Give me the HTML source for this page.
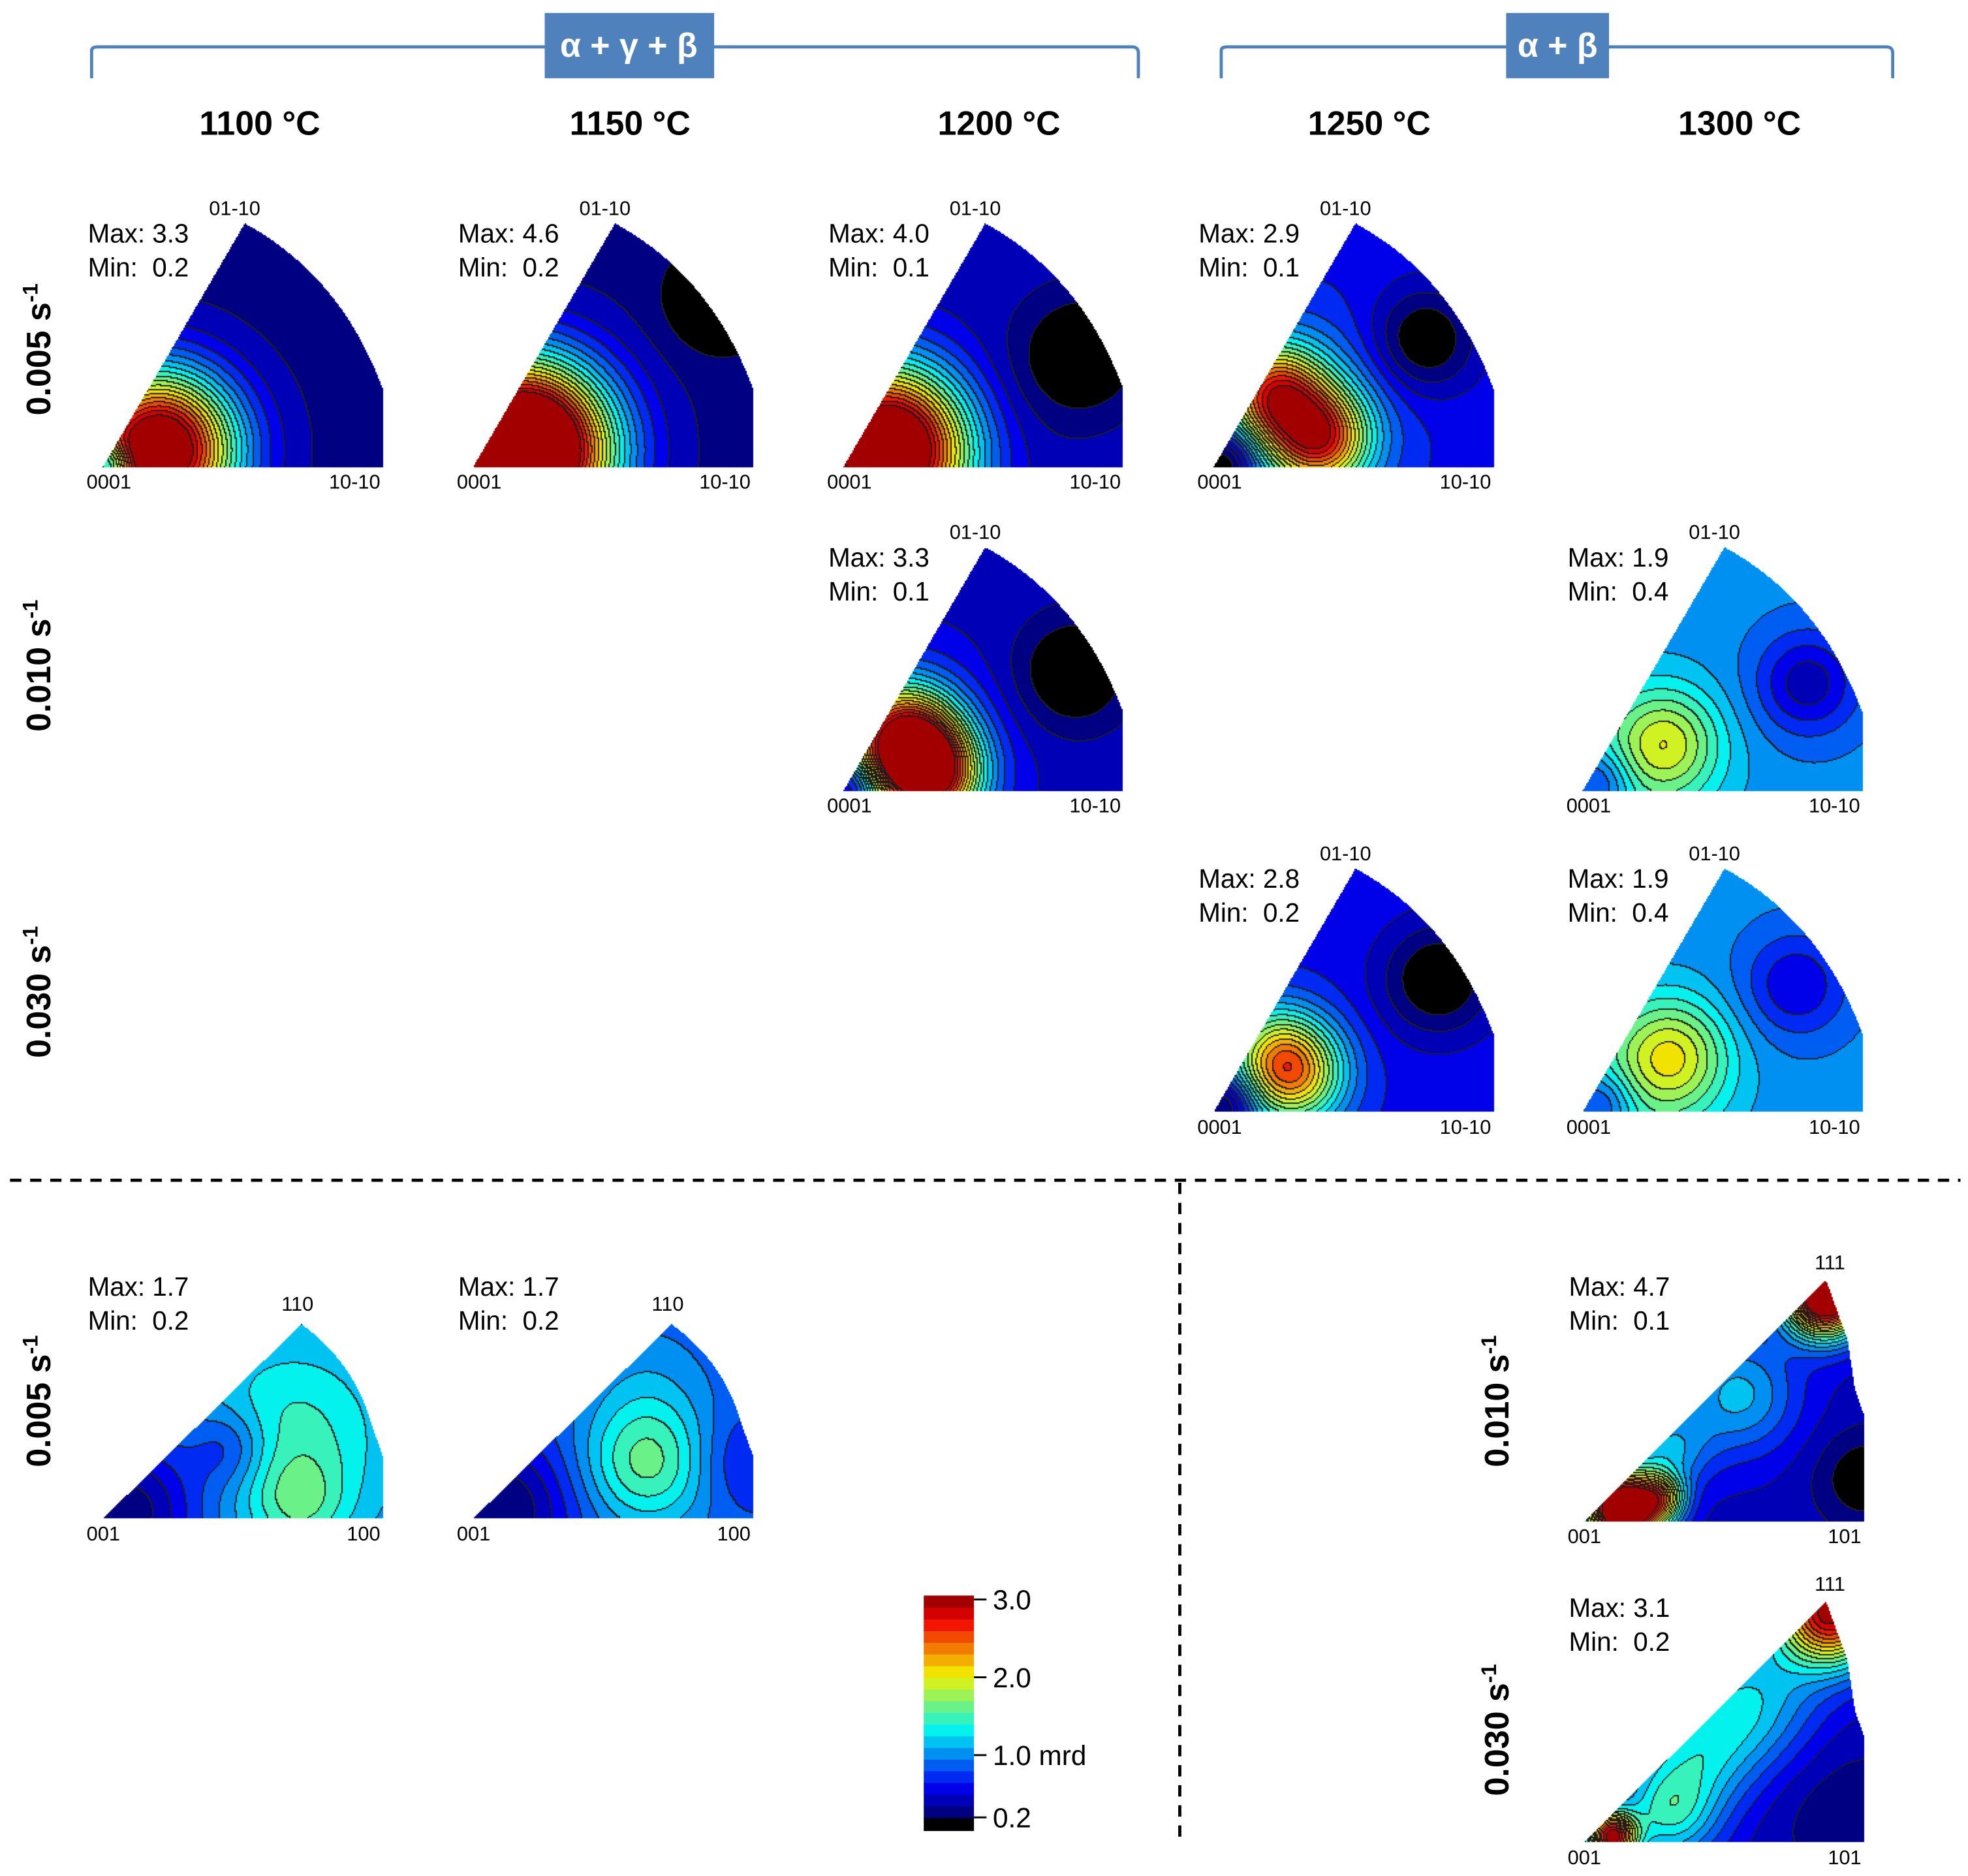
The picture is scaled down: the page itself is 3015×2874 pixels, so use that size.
<!DOCTYPE html>
<html><head><meta charset="utf-8">
<style>
html,body{margin:0;padding:0;background:#fff;}
#wrap{position:relative;width:3015px;height:2874px;overflow:hidden;}
canvas,svg{position:absolute;left:0;top:0;}
text{font-family:"Liberation Sans",sans-serif;white-space:pre;}
</style></head>
<body>
<div id="wrap">
<canvas id="cv" width="3015" height="2874"></canvas>
<svg id="sv" width="3015" height="2874" viewBox="0 0 1568 1494">
 <g fill="none" stroke="#4f81bd" stroke-width="2.5">
  <path d="M73 62 V40 Q73 37 78 37 H902 Q907 37 907 42 V62"/>
 </g>
 <rect x="434" y="10" width="135" height="52" fill="#4f81bd"/>
 <text x="501" y="45" text-anchor="middle" fill="#fff" font-size="27" font-weight="bold">α + γ + β</text>
 <g fill="none" stroke="#4f81bd" stroke-width="2.5">
  <path d="M973 62 V40 Q973 37 978 37 H1503 Q1508 37 1508 42 V62"/>
 </g>
 <rect x="1200" y="10" width="82" height="52" fill="#4f81bd"/>
 <text x="1241" y="45" text-anchor="middle" fill="#fff" font-size="27" font-weight="bold">α + β</text>
 <g font-size="27" font-weight="bold" text-anchor="middle">
  <text x="207" y="107">1100 °C</text>
  <text x="502" y="107">1150 °C</text>
  <text x="796" y="107">1200 °C</text>
  <text x="1091" y="107">1250 °C</text>
  <text x="1386" y="107">1300 °C</text>
 </g>
 <g font-size="27" font-weight="bold" text-anchor="middle">
  <text transform="translate(40,278) rotate(-90)">0.005 s<tspan dy="-10" font-size="17">-1</tspan></text>
  <text transform="translate(40,530) rotate(-90)">0.010 s<tspan dy="-10" font-size="17">-1</tspan></text>
  <text transform="translate(40,790) rotate(-90)">0.030 s<tspan dy="-10" font-size="17">-1</tspan></text>
  <text transform="translate(40,1116) rotate(-90)">0.005 s<tspan dy="-10" font-size="17">-1</tspan></text>
  <text transform="translate(1202,1116) rotate(-90)">0.010 s<tspan dy="-10" font-size="17">-1</tspan></text>
  <text transform="translate(1202,1378) rotate(-90)">0.030 s<tspan dy="-10" font-size="17">-1</tspan></text>
 </g>
 <line x1="8" y1="940" x2="1562" y2="940" stroke="#000" stroke-width="2.5" stroke-dasharray="9,7"/>
 <line x1="940" y1="942" x2="940" y2="1468" stroke="#000" stroke-width="2.5" stroke-dasharray="9,7"/>
 <g id="labels"></g>
 <g id="cbar"></g>
</svg>
</div>
<script>
// ---- data ----
const panelTypes = ['hex','hex','hex','hex','hex','hex','hex','hex','cub','cub','cub2','cub2'];
const panelOriginX = [82,377,672,967,672,1261,967,1261,82,377,1262,1262];
const panelOriginY = [372,372,372,372,630,630,886,886,1210,1210,1212,1468];
const panelMax = ['3.3','4.6','4.0','2.9','3.3','1.9','2.8','1.9','1.7','1.7','4.7','3.1'];
const panelMin = ['0.2','0.2','0.1','0.1','0.1','0.4','0.2','0.4','0.2','0.2','0.1','0.2'];
const panelBase = [0.3,0.3,0.42,0.6,0.45,1.0,0.6,1.0,0.95,0.85,0.45,0.5];
// hotspots: [u, v, amplitude, sigma] in units of panel radius
const panelSpots = [
 [[0.2,0.06,3.2,0.19],[0.03,0.01,-0.8,0.05]],
 [[0.18,0.06,4.2,0.21],[0.88,0.6,-0.5,0.12]],
 [[0.16,0.06,3.4,0.2],[0.85,0.4,-0.5,0.14],[0.55,0.2,-0.1,0.2]],
 [[0.22,0.26,1.6,0.12],[0.38,0.1,1.7,0.12],[0.3,0.18,0.6,0.22],[0.75,0.45,-0.6,0.13],[0.05,0.02,-0.8,0.08]],
 [[0.22,0.18,2.1,0.13],[0.32,0.05,1.9,0.12],[0.2,0.12,0.6,0.22],[0.82,0.42,-0.5,0.14],[0.04,0.02,-0.6,0.06]],
 [[0.3,0.17,0.7,0.13],[0.2,0.1,0.35,0.22],[0.8,0.38,-0.6,0.13],[0.06,0.03,-0.5,0.08]],
 [[0.28,0.14,1.7,0.13],[0.2,0.24,0.5,0.12],[0.8,0.47,-0.6,0.14],[0.06,0.03,-0.6,0.07]],
 [[0.32,0.2,0.8,0.14],[0.2,0.1,0.35,0.22],[0.76,0.45,-0.5,0.13],[0.07,0.03,-0.5,0.08]],
 [[0.68,0.3,0.5,0.25],[0.7,0.05,0.4,0.12],[0.1,0.03,-0.7,0.18],[0.45,0.25,-0.4,0.1]],
 [[0.62,0.2,0.75,0.16],[0.62,0.5,0.15,0.15],[0.1,0.03,-0.65,0.18],[0.95,0.2,-0.25,0.12]],
 [[0.86,0.8,3.2,0.1],[0.14,0.04,3.4,0.09],[0.28,0.08,1.2,0.06],[0.55,0.45,0.7,0.15],[0.3,0.25,0.6,0.1],[1.0,0.15,-0.4,0.12]],
 [[0.88,0.82,2.5,0.13],[0.1,0.02,2.4,0.06],[0.3,0.1,0.8,0.12],[0.6,0.5,0.7,0.17],[0.4,0.3,0.6,0.15],[0.92,0.12,-0.25,0.22]]
];
// colour-scale tick labels and values
const cbarTicks = ['3.0','2.0','1.0 mrd','0.2'];
const cbarTickVals = [3.0,2.0,1.0,0.2];

// ---- geometry ----
const S = 3015/1568;
const R = 224;
function shapePath(t,ox,oy){
 const p=new Path2D();
 if(t==='hex'){p.moveTo(ox,oy);p.lineTo(ox+113,oy-194);p.quadraticCurveTo(ox+190,oy-152,ox+223,oy-62);p.lineTo(ox+223,oy);p.closePath();}
 else if(t==='cub'){p.moveTo(ox,oy);p.lineTo(ox+158,oy-155);p.quadraticCurveTo(ox+200,oy-125,ox+214,oy-75);p.lineTo(ox+223,oy-50);p.lineTo(ox+223,oy);p.closePath();}
 else {p.moveTo(ox,oy);p.lineTo(ox+193,oy-192);p.lineTo(ox+210,oy-145);p.lineTo(ox+216,oy-105);p.lineTo(ox+223,oy-85);p.lineTo(ox+223,oy);p.closePath();}
 return p;
}
const LMIN=0.2, STEP=0.15, NL=19;
function jet(t){const c=x=>Math.max(0,Math.min(1,x));return [c(1.5-Math.abs(4*t-3)),c(1.5-Math.abs(4*t-2)),c(1.5-Math.abs(4*t-1))].map(v=>Math.round(v*255*0.95));}
function level(v){if(v<LMIN)return -1;return Math.min(NL-1,Math.floor((v-LMIN)/STEP));}
function levelColor(k){if(k<0)return[0,0,0];return jet((k+0.2)/NL);}

const cv=document.getElementById('cv'),ctx=cv.getContext('2d');
ctx.setTransform(S,0,0,S,0,0);
const img=ctx.createImageData(3015,2874);
const D=img.data;
for(let i=0;i<D.length;i+=4){D[i]=D[i+1]=D[i+2]=255;D[i+3]=0;}
const st=2;
for(let p=0;p<panelTypes.length;p++){
 const ox=panelOriginX[p],oy=panelOriginY[p],t=panelTypes[p];
 const path=shapePath(t,ox,oy);
 const x0=Math.floor(ox*S),x1=Math.ceil((ox+224)*S),y0=Math.floor((oy-200)*S),y1=Math.ceil(oy*S);
 const W=Math.ceil((x1-x0)/st),H=Math.ceil((y1-y0)/st);
 const L=new Int16Array(W*H).fill(-99);
 for(let j=0;j<H;j++)for(let i=0;i<W;i++){
  const px=x0+i*st+1,py=y0+j*st+1;
  if(!ctx.isPointInPath(path,px,py))continue;
  const u=(px/S-ox)/R,v=(oy-py/S)/R;
  let val=panelBase[p];
  for(const s of panelSpots[p]){const dx=u-s[0],dy=v-s[1];val+=s[2]*Math.exp(-(dx*dx+dy*dy)/(2*s[3]*s[3]));}
  L[j*W+i]=level(val);
 }
 for(let j=0;j<H;j++)for(let i=0;i<W;i++){
  const k=L[j*W+i];if(k===-99)continue;
  let col=levelColor(k);
  const r=i+1<W?L[j*W+i+1]:k, b=j+1<H?L[(j+1)*W+i]:k;
  if((r!==k&&r!==-99)||(b!==k&&b!==-99))col=[30,30,30];
  for(let dy=0;dy<st;dy++)for(let dx=0;dx<st;dx++){
   const X=x0+i*st+dx,Y=y0+j*st+dy;if(X>=3015||Y>=2874)continue;
   const o=(Y*3015+X)*4;D[o]=col[0];D[o+1]=col[1];D[o+2]=col[2];D[o+3]=255;
  }
 }
}
ctx.setTransform(1,0,0,1,0,0);
ctx.putImageData(img,0,0);

// ---- labels ----
const NS='http://www.w3.org/2000/svg';
const lg=document.getElementById('labels');
function txt(parent,x,y,s,size,anchor){const e=document.createElementNS(NS,'text');e.setAttribute('x',x);e.setAttribute('y',y);e.setAttribute('font-size',size);if(anchor)e.setAttribute('text-anchor',anchor);e.textContent=s;parent.appendChild(e);return e;}
for(let p=0;p<panelTypes.length;p++){
 const ox=panelOriginX[p],oy=panelOriginY[p],t=panelTypes[p];
 const g=document.createElementNS(NS,'g');
 
 
 lg.appendChild(g);
 const isHex=t==='hex';
 const my=isHex?oy-179:(t==='cub'?oy-178:oy-180);
 const mx=ox-12;
 const a=txt(g,mx,my,'Max: '+panelMax[p],21);
 
 
 const b=txt(g,mx,my+27,'Min:  '+panelMin[p],21);
 
 
 const names=isHex?['0001','10-10','01-10']:(t==='cub'?['001','100','110']:['001','101','111']);
 const c1=txt(g,ox-13,oy+17,names[0],16);
 
 
 const c2=txt(g,ox+221,oy+17,names[1],16,'end');
 
 
 const ax=isHex?ox+105:(t==='cub'?ox+155:ox+196), ay=isHex?oy-201:(t==='cub'?oy-166:oy-201);
 const c3=txt(g,ax,ay,names[2],16,'middle');
 
 
}
// ---- colorbar ----
const cb=document.getElementById('cbar');
const cbY=v=>1398-(v-1)*62;
for(let k=-1;k<NL;k++){
 const lo=k<0?0.0:LMIN+k*STEP, hi=k<0?LMIN:LMIN+(k+1)*STEP;
 const yTop=Math.max(1257,cbY(hi)), yBot=Math.min(1458,cbY(lo));
 if(yBot<=yTop)continue;
 const r=document.createElementNS(NS,'rect');
 
 
 const c=levelColor(k);
 r.setAttribute('x',736);r.setAttribute('y',yTop);r.setAttribute('width',40);r.setAttribute('height',yBot-yTop+0.5);
 r.setAttribute('fill','rgb('+c.join(',')+')');
 cb.appendChild(r);
}
for(let i=0;i<cbarTicks.length;i++){
 const y=cbY(cbarTickVals[i]);
 const l=document.createElementNS(NS,'line');
 
 
 l.setAttribute('x1',776);l.setAttribute('x2',786);l.setAttribute('y1',y);l.setAttribute('y2',y);l.setAttribute('stroke','#000');l.setAttribute('stroke-width',1.5);
 cb.appendChild(l);
 const t=txt(cb,791,y+8,cbarTicks[i],22);
 
 
}
</script>
</body></html>
